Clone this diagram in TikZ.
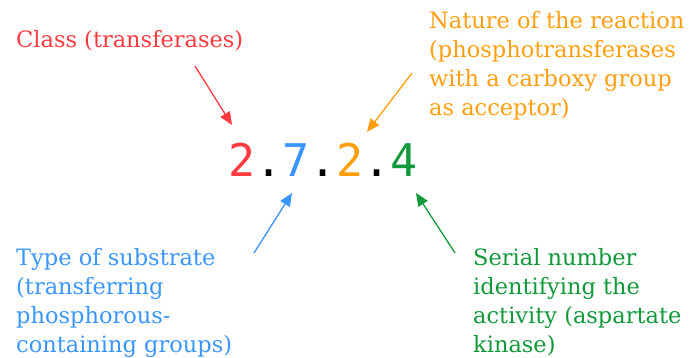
\documentclass[tikz,border=0pt]{standalone}
\usepackage{fontspec}
\setmainfont{DejaVu Serif}
\newfontfamily\ecfont{DejaVu Sans Mono}
\usetikzlibrary{arrows.meta}
\definecolor{cClass} {HTML}{FF3B3F}
\definecolor{cNature}{HTML}{FF9F0F}
\definecolor{cSubstr}{HTML}{3A96FF}
\definecolor{cSerial}{HTML}{11993A}

\begin{document}
\begin{tikzpicture}[x=1pt,y=1pt,
    lbl/.style={anchor=north west,align=left,inner sep=0pt,
                font=\fontsize{22.5}{29}\selectfont},
    ptr/.style={line width=1.3pt,-{Triangle[length=13pt,width=11pt]}},
  ]

% fixed bounding box
\path (0,0) rectangle (692,-358);

% ---- EC number -------------------------------------------------------------
\node[font=\ecfont\fontsize{45}{45}\selectfont,inner sep=0pt] (ec) at (323,-159.5)
  {\textcolor{cClass}{2}.\textcolor{cSubstr}{7}.\textcolor{cNature}{2}.\textcolor{cSerial}{4}};

% ---- labels ----------------------------------------------------------------
\node[lbl,text=cClass]  (cls) at (16,-30.6)  {Class (transferases)};
\node[lbl,text=cNature] (nat) at (429,-10.9)
  {Nature of the reaction\\(phosphotransferases\\with a carboxy group\\as acceptor)};
\node[lbl,text=cSubstr] (typ) at (16,-247.9)
  {Type of substrate\\(transferring\\phosphorous-\\containing groups)};
\node[lbl,text=cSerial] (ser) at (473,-247.9)
  {Serial number\\identifying the\\activity (aspartate\\kinase)};

% ---- pointers --------------------------------------------------------------
\coordinate (clsFrom) at (195,-66);  \coordinate (clsTip) at (232,-125);
\coordinate (natFrom) at (412,-73);  \coordinate (natTip) at (367,-132);
\coordinate (typFrom) at (254,-253); \coordinate (typTip) at (292,-193);
\coordinate (serFrom) at (455,-253); \coordinate (serTip) at (416,-193);

\draw[ptr,cClass]  (clsFrom) -- (clsTip);
\draw[ptr,cNature] (natFrom) -- (natTip);
\draw[ptr,cSubstr] (typFrom) -- (typTip);
\draw[ptr,cSerial] (serFrom) -- (serTip);

\end{tikzpicture}
\end{document}
